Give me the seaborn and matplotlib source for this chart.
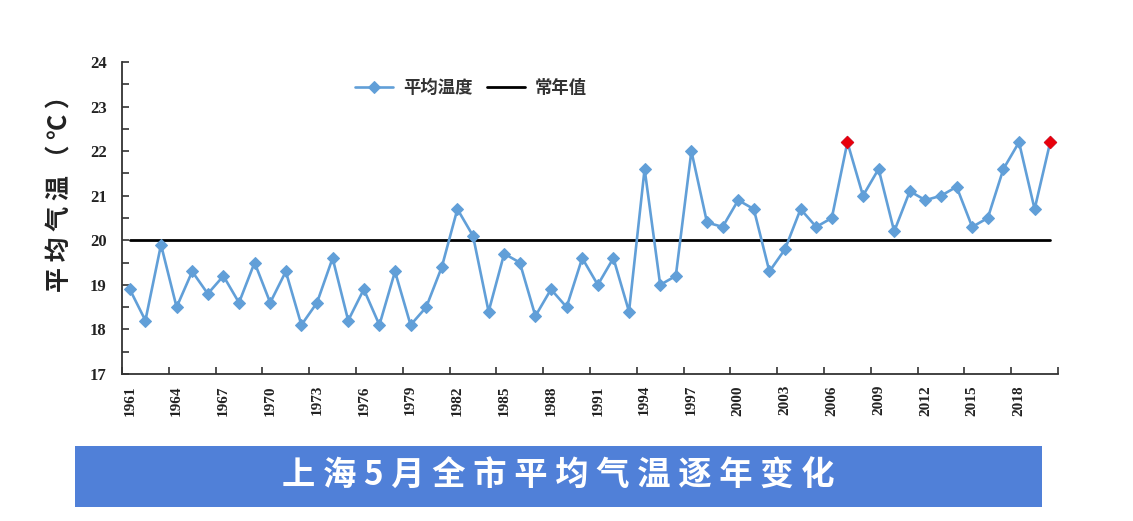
import matplotlib
matplotlib.use("Agg")
import matplotlib.pyplot as plt
from matplotlib.patches import Rectangle
from matplotlib.ticker import FixedLocator, MultipleLocator
import seaborn as sns
import pandas as pd

# ---- data ----
years = list(range(1961, 2021))
temps = [18.9, 18.2, 19.9, 18.5, 19.3, 18.8, 19.2, 18.6, 19.5, 18.6,
         19.3, 18.1, 18.6, 19.6, 18.2, 18.9, 18.1, 19.3, 18.1, 18.5,
         19.4, 20.7, 20.1, 18.4, 19.7, 19.5, 18.3, 18.9, 18.5, 19.6,
         19.0, 19.6, 18.4, 21.6, 19.0, 19.2, 22.0, 20.4, 20.3, 20.9,
         20.7, 19.3, 19.8, 20.7, 20.3, 20.5, 22.2, 21.0, 21.6, 20.2,
         21.1, 20.9, 21.0, 21.2, 20.3, 20.5, 21.6, 22.2, 20.7, 22.2]
normal_value = 20.0
normals = [normal_value] * len(years)
highlight_years = [2007, 2020]
label_years = list(range(1961, 2019, 3))
y_ticks = [17, 18, 19, 20, 21, 22, 23, 24]
series_name = "平均温度"
normal_name = "常年值"
y_label = "平 均 气 温 （ ℃ ）"
title_text = "上 海 5 月 全 市 平 均 气 温 逐 年 变 化"

df = pd.DataFrame({"year": years, "temp": temps, "normal": normals})
hl = df[df["year"].isin(highlight_years)]

sns.set_style("white")
plt.rcParams["font.family"] = ["Noto Sans CJK SC", "DejaVu Sans"]

W, H = 1133, 521
fig = plt.figure(figsize=(W / 100, H / 100), dpi=100)
ax = fig.add_axes([122 / W, (H - 374) / H, 936 / W, 312 / H])

blue = "#619FD8"
sns.lineplot(data=df, x="year", y="temp", ax=ax, color=blue, lw=1.9,
             marker="D", markersize=5.8, markeredgecolor=blue,
             markerfacecolor=blue, label=series_name, zorder=3)
sns.lineplot(data=df, x="year", y="normal", ax=ax, color="black", lw=2.0,
             label=normal_name, zorder=2)
sns.scatterplot(data=hl, x="year", y="temp", ax=ax, color="#E8000B",
                marker="D", s=42, edgecolor="#E8000B", zorder=4, legend=False)

ax.set_xlim(1960.5, 2020.5)
ax.set_ylim(17, 24)
ax.set_xlabel("")
ax.set_ylabel("")

# y ticks
ax.yaxis.set_major_locator(FixedLocator(y_ticks))
ax.yaxis.set_minor_locator(MultipleLocator(0.5))
ax.tick_params(axis="y", which="both", direction="in", length=5, width=1.2,
               color="#333333", left=True, pad=11)
ax.set_yticklabels([str(t) for t in y_ticks], family="Liberation Serif",
                   fontsize=12, fontweight="bold", color="#222222")

# x ticks: labels at categories, marks between categories
ax.xaxis.set_major_locator(FixedLocator(label_years))
ax.xaxis.set_minor_locator(FixedLocator([1960.5 + 3 * k for k in range(21)]))
ax.tick_params(axis="x", which="major", length=0, pad=8, bottom=True)
ax.tick_params(axis="x", which="minor", direction="in", length=5, width=1.2,
               color="#333333", bottom=True)
ax.set_xticklabels([str(y) for y in label_years], rotation=90,
                   family="Liberation Serif", fontsize=11,
                   fontweight="bold", color="#222222")

for s in ["top", "right"]:
    ax.spines[s].set_visible(False)
for s in ["left", "bottom"]:
    ax.spines[s].set_color("#333333")
    ax.spines[s].set_linewidth(1.3)
ax.grid(False)

leg = ax.legend(loc="center", bbox_to_anchor=(471 / W, 1 - 88 / H),
                bbox_transform=fig.transFigure, ncol=2, frameon=False,
                handlelength=2.2, handletextpad=0.6, columnspacing=0.8,
                prop={"family": ["Noto Sans CJK SC", "DejaVu Sans"],
                      "weight": "bold", "size": 12.5})
for t in leg.get_texts():
    t.set_color("#333333")

# y label
fig.text(60 / W, 1 - 188 / H, y_label, rotation=90, ha="center", va="center",
         fontsize=18, fontweight="bold", color="#222222")

# title bar
fig.patches.append(Rectangle((75 / W, (H - 507) / H), 967 / W, 61 / H,
                             transform=fig.transFigure, facecolor="#5080D8",
                             edgecolor="none", zorder=0))
fig.text(558 / W, 1 - 476 / H, title_text, ha="center", va="center",
         fontsize=24, fontweight="bold", color="white")

fig.savefig("out.png", dpi=100)
